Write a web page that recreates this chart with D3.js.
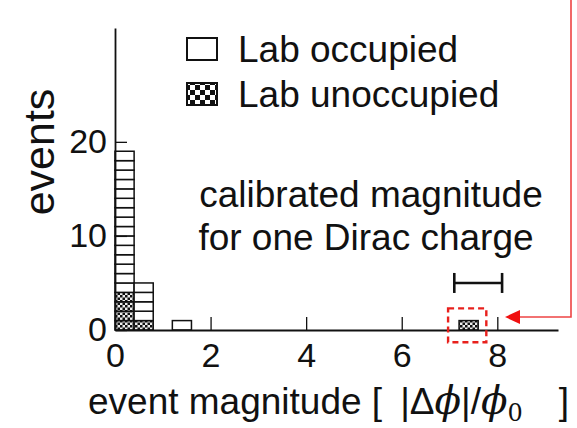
<!DOCTYPE html>
<html>
<head>
<meta charset="utf-8">
<script src="https://cdn.jsdelivr.net/npm/d3@7"></script>
<style>
  body { margin: 0; background: #fff; }
  text { font-family: "Liberation Sans", Arial, Helvetica, sans-serif; fill: #111; }
</style>
</head>
<body>
<div class="chart"></div>
<script>
"use strict";

// histogram bins (event magnitude, width 0.4), counts per lab state
const bin_start = [0.0, 0.4, 1.2, 7.2];
const bin_width = 0.4;
const occupied_counts = [15, 4, 1, 0];
const unoccupied_counts = [4, 1, 0, 1];

const x_ticks = [0, 2, 4, 6, 8];
const y_ticks = [0, 10, 20];

// calibrated magnitude for one Dirac charge (error-bar style marker)
const calib_range = [7.1, 8.1];
const calib_level = 5;

window.onload = () => main();

function main() {
    const width = 577, height = 428;
    const svg = d3.select(".chart").append("svg")
        .attr("width", width)
        .attr("height", height);

    const x = d3.scaleLinear().domain([0, 9.27]).range([115, 558]);
    const y = d3.scaleLinear().domain([0, 32.1]).range([330, 28]);

    // checker pattern for "lab unoccupied"
    const defs = svg.append("defs");
    const pat = defs.append("pattern")
        .attr("id", "checker")
        .attr("patternUnits", "userSpaceOnUse")
        .attr("width", 10).attr("height", 10);
    pat.append("rect").attr("width", 10).attr("height", 10).attr("fill", "#fff");
    pat.append("rect").attr("width", 5).attr("height", 5).attr("fill", "#111");
    pat.append("rect").attr("x", 5).attr("y", 5).attr("width", 5).attr("height", 5).attr("fill", "#111");

    const patSmall = defs.append("pattern")
        .attr("id", "checker-small")
        .attr("patternUnits", "userSpaceOnUse")
        .attr("width", 5).attr("height", 5);
    patSmall.append("rect").attr("width", 5).attr("height", 5).attr("fill", "#eee");
    patSmall.append("rect").attr("width", 2.5).attr("height", 2.5).attr("fill", "#111");
    patSmall.append("rect").attr("x", 2.5).attr("y", 2.5).attr("width", 2.5).attr("height", 2.5).attr("fill", "#111");

    // one cell per event: unoccupied at the bottom, occupied stacked on top
    const cells = [];
    bin_start.forEach((b, i) => {
        for (let k = 0; k < unoccupied_counts[i]; k++) cells.push({ x0: b, level: k, kind: "un" });
        for (let k = 0; k < occupied_counts[i]; k++) cells.push({ x0: b, level: unoccupied_counts[i] + k, kind: "oc" });
    });

    svg.append("g").selectAll("rect")
        .data(cells)
        .enter()
        .append("rect")
        .attr("x", d => x(d.x0))
        .attr("y", d => y(d.level + 1))
        .attr("width", x(bin_width) - x(0))
        .attr("height", y(0) - y(1))
        .attr("fill", d => d.kind === "un" ? "url(#checker-small)" : "#fff")
        .attr("stroke", "#111")
        .attr("stroke-width", 1.5);

    // axes
    const xAxis = d3.axisBottom(x).tickValues(x_ticks).tickSizeInner(-13).tickSizeOuter(0).tickPadding(13);
    const gx = svg.append("g").attr("transform", `translate(0,${y(0)})`).call(xAxis);
    gx.select(".domain").attr("stroke", "#111").attr("stroke-width", 1.8);
    gx.selectAll(".tick line").attr("stroke", "#111").attr("stroke-width", 1.3);
    gx.selectAll(".tick text").attr("font-size", 34).attr("fill", "#111")
        .attr("font-family", "Liberation Sans, Arial, sans-serif");

    const yAxis = d3.axisLeft(y).tickValues(y_ticks).tickSizeInner(-12).tickSizeOuter(0).tickPadding(8);
    const gy = svg.append("g").attr("transform", `translate(${x(0)},0)`).call(yAxis);
    gy.select(".domain").attr("stroke", "#111").attr("stroke-width", 1.8);
    gy.selectAll(".tick line").attr("stroke", "#111").attr("stroke-width", 1.3);
    gy.selectAll(".tick text").attr("font-size", 34).attr("fill", "#111")
        .attr("font-family", "Liberation Sans, Arial, sans-serif");

    // axis titles
    svg.append("text")
        .attr("transform", `translate(54,${152}) rotate(-90)`)
        .attr("text-anchor", "middle")
        .attr("font-size", 43)
        .text("events");

    const xl = svg.append("text")
        .attr("x", 88).attr("y", 414)
        .attr("font-size", 37);
    xl.append("tspan").text("event magnitude [");
    xl.append("tspan").attr("dx", 18).text("|Δ");
    xl.append("tspan").attr("font-family", "DejaVu Serif, serif").attr("font-style", "italic").attr("font-size", 39).text("ϕ");
    xl.append("tspan").text("|/");
    xl.append("tspan").attr("font-family", "DejaVu Serif, serif").attr("font-style", "italic").attr("font-size", 39).text("ϕ");
    xl.append("tspan").attr("font-family", "DejaVu Serif, serif").attr("font-size", 24).attr("dy", 7).text("0");
    xl.append("tspan").attr("dy", -7).attr("dx", 36).text("]");

    // legend
    const legend = svg.append("g");
    legend.append("rect").attr("x", 187).attr("y", 38).attr("width", 30).attr("height", 22)
        .attr("fill", "#fff").attr("stroke", "#111").attr("stroke-width", 2);
    legend.append("rect").attr("x", 187).attr("y", 83).attr("width", 30).attr("height", 22)
        .attr("fill", "url(#checker)").attr("stroke", "#111").attr("stroke-width", 2);
    legend.append("text").attr("x", 238).attr("y", 62).attr("font-size", 37).text("Lab occupied");
    legend.append("text").attr("x", 238).attr("y", 107).attr("font-size", 37).text("Lab unoccupied");

    // annotation
    svg.append("text").attr("x", 371).attr("y", 207).attr("text-anchor", "middle")
        .attr("font-size", 37).text("calibrated magnitude");
    svg.append("text").attr("x", 366).attr("y", 250).attr("text-anchor", "middle")
        .attr("font-size", 37).text("for one Dirac charge");

    // calibration bar
    const cy = y(calib_level);
    const cal = svg.append("g").attr("stroke", "#111").attr("stroke-width", 2.6);
    cal.append("line").attr("x1", x(calib_range[0])).attr("x2", x(calib_range[1])).attr("y1", cy).attr("y2", cy);
    calib_range.forEach(v => {
        cal.append("line").attr("x1", x(v)).attr("x2", x(v)).attr("y1", cy - 10).attr("y2", cy + 10);
    });

    // red dashed box around the candidate event
    svg.append("rect")
        .attr("x", x(6.97)).attr("y", y(2.3))
        .attr("width", x(7.77) - x(6.97)).attr("height", y(-1.3) - y(2.3))
        .attr("fill", "none").attr("stroke", "#e8201c").attr("stroke-width", 2.4)
        .attr("stroke-dasharray", "6,4");

    // red pointer line with arrow
    const ay = 317;
    svg.append("path")
        .attr("d", `M571,0 V${ay} H519`)
        .attr("fill", "none").attr("stroke", "#ee4444").attr("stroke-width", 1.6);
    svg.append("path")
        .attr("d", `M505,${ay} L520,${ay - 7} L520,${ay + 7} Z`)
        .attr("fill", "#f01010");
}
</script>
</body>
</html>
